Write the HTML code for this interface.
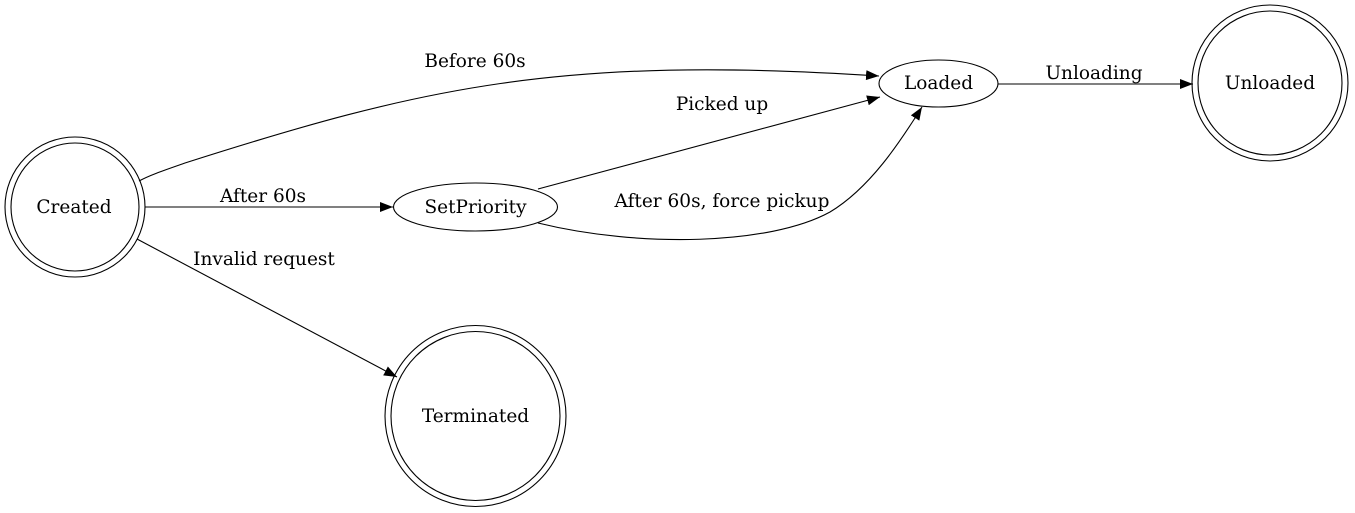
<!DOCTYPE html>
<html><head><style>html,body{margin:0;padding:0;background:#fff;}svg{display:block}</style></head>
<body>
<svg width="1355" height="513" viewBox="0 0 1355 513" xmlns="http://www.w3.org/2000/svg" font-family="DejaVu Serif, serif" font-size="18.5">
<defs>
<marker id="a" markerWidth="13" markerHeight="10" refX="13" refY="5" orient="auto" markerUnits="userSpaceOnUse">
<path d="M0,0 L13,5 L0,10 Z" fill="#000"/>
</marker>
</defs>
<g fill="none" stroke="#000" stroke-width="1.1">
<circle cx="75" cy="207" r="70"/><circle cx="75" cy="207" r="64"/>
<ellipse cx="475.5" cy="207" rx="82" ry="24"/>
<ellipse cx="938.5" cy="83.5" rx="59.5" ry="23.5"/>
<circle cx="1270" cy="83" r="78"/><circle cx="1270" cy="83" r="72"/>
<circle cx="475.5" cy="416" r="90.5"/><circle cx="475.5" cy="416" r="84.5"/>
<path d="M139,181 C150,175 165,170 185,163 C420,88 560,55 879,76" marker-end="url(#a)"/>
<path d="M538,189 L880,97" marker-end="url(#a)"/>
<path d="M538,223 C640,248 770,245 830,212 C870,188 900,142 922,107" marker-end="url(#a)"/>
<path d="M145,207 L393,207" marker-end="url(#a)"/>
<path d="M137,239 L397,377" marker-end="url(#a)"/>
<path d="M998,84 L1193,84" marker-end="url(#a)"/>
</g>
<g fill="#000" text-anchor="middle">
<text x="74" y="213">Created</text>
<text x="475.5" y="213">SetPriority</text>
<text x="938.5" y="89">Loaded</text>
<text x="1270" y="89">Unloaded</text>
<text x="475.5" y="422">Terminated</text>
<text x="475" y="67">Before 60s</text>
<text x="722" y="110">Picked up</text>
<text x="722" y="207">After 60s, force pickup</text>
<text x="263" y="202">After 60s</text>
<text x="264" y="265">Invalid request</text>
<text x="1094" y="79">Unloading</text>
</g>
</svg>
</body></html>
